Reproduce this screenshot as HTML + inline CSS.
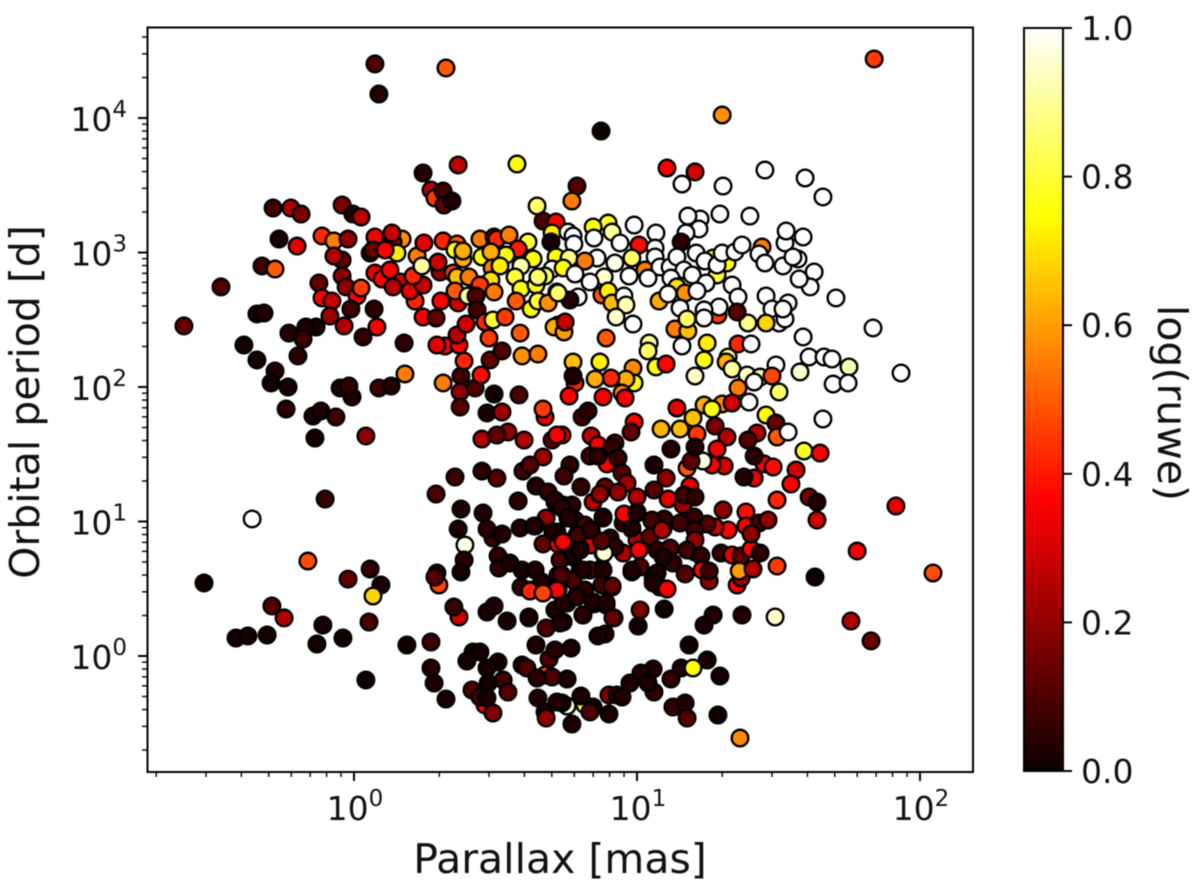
<!DOCTYPE html>
<html lang="en">
<head>
<meta charset="utf-8">
<title>Orbital period vs parallax</title>
<style>
html,body{margin:0;padding:0;background:#fff;width:1200px;height:894px;overflow:hidden}
svg{display:block;filter:blur(0.5px)}
text{font-family:"DejaVu Sans","Liberation Sans",sans-serif;fill:#111}
</style>
</head>
<body>
<svg id="chart" xmlns="http://www.w3.org/2000/svg" width="1200" height="894" viewBox="0 0 1200 894">
  <defs>
    <linearGradient id="hotGradient" x1="0" y1="1" x2="0" y2="0">
      <stop offset="0" stop-color="#0b0000"/>
      <stop offset="0.365" stop-color="#ff0000"/>
      <stop offset="0.746" stop-color="#ffff00"/>
      <stop offset="1" stop-color="#ffffff"/>
    </linearGradient>
    <clipPath id="plotClip"><rect x="147" y="27" width="826" height="745"/></clipPath>
  </defs>
  <g id="points" clip-path="url(#plotClip)"></g>
  <rect x="147.5" y="27.5" width="825.5" height="744.5" fill="none" stroke="#000" stroke-width="2"/>
  <g id="axes"></g>
  <text x="560" y="873" font-size="41" text-anchor="middle">Parallax [mas]</text>
  <text transform="translate(39 402) rotate(-90)" font-size="41" text-anchor="middle">Orbital period [d]</text>
  <rect x="1024" y="28" width="39" height="743" fill="url(#hotGradient)" stroke="#000" stroke-width="2"/>
  <g id="colorbarAxis"></g>
  <text transform="translate(1158 403) rotate(90)" font-size="41" text-anchor="middle">log(ruwe)</text>
</svg>
<script>
const logParallax = [
0.074,0.325,0.088,0.244,0.368,0.576,0.272,0.286,0.315,0.318,
0.346,0.647,0.668,0.714,-0.286,-0.223,-0.187,-0.042,-0.004,0.025,
-0.265,-0.201,-0.113,-0.071,-0.021,0.170,0.074,0.138,0.134,0.057,
0.067,0.152,0.110,-0.042,-0.071,-0.325,-0.279,-0.470,-0.601,0.074,
0.099,0.163,0.127,0.138,-0.042,-0.124,-0.028,0.011,0.025,-0.113,
-0.078,-0.011,-0.085,0.071,0.081,-0.035,-0.134,-0.170,-0.180,-0.230,
-0.343,-0.318,-0.389,-0.343,-0.198,0.032,0.177,-0.279,-0.293,-0.233,
-0.007,-0.049,-0.018,0.088,0.131,0.180,0.315,0.378,0.375,0.428,
0.449,0.495,0.583,0.481,0.523,0.389,0.594,0.650,0.477,0.587,
0.322,0.293,0.371,0.364,0.396,0.244,0.290,0.368,0.307,0.216,
0.198,0.244,0.209,0.304,0.297,0.350,0.223,0.240,0.247,0.315,
0.364,0.357,0.385,0.385,0.445,0.495,0.505,0.548,0.615,0.700,
0.696,0.452,0.580,0.537,0.484,0.633,0.714,0.488,0.516,0.590,
0.700,0.364,0.406,0.484,0.569,0.445,0.495,0.357,0.403,0.431,
0.435,0.590,0.643,0.675,0.650,0.717,0.573,0.626,0.650,0.686,
0.463,0.491,0.534,0.721,0.707,1.838,1.301,0.873,1.106,1.205,
1.159,1.304,1.452,1.594,1.657,0.788,0.770,0.898,0.845,0.912,
0.990,1.067,1.223,1.180,1.219,1.293,1.399,1.173,1.523,1.527,
1.587,0.756,0.774,0.848,0.777,0.940,1.007,1.156,0.760,0.859,
0.816,0.922,0.982,1.064,1.064,1.028,1.081,1.117,1.141,1.039,
0.972,0.884,0.834,0.739,0.781,1.166,1.120,1.195,1.209,1.269,
1.318,1.240,1.283,1.283,1.301,1.346,1.371,1.442,1.431,1.452,
1.516,1.569,1.551,1.336,1.244,1.141,1.170,1.212,1.078,1.110,
1.357,1.626,1.612,1.573,1.456,1.534,1.703,1.834,1.477,1.502,
1.523,1.516,1.392,1.456,1.286,1.354,1.290,1.237,1.237,1.134,
1.152,1.180,1.177,1.159,1.248,1.237,1.322,1.315,1.336,1.205,
1.357,1.403,1.587,1.608,1.661,1.689,1.749,1.576,1.491,1.389,
1.435,1.477,1.414,1.502,1.357,1.693,1.746,1.933,1.043,1.039,
1.067,1.103,0.774,0.869,0.986,0.990,0.961,0.908,0.852,0.781,
0.774,0.760,0.880,0.947,0.958,0.891,0.742,0.746,0.792,0.763,
0.721,0.876,0.898,0.912,0.954,0.961,0.926,0.986,1.396,1.141,
1.237,1.301,1.336,1.265,1.456,1.491,1.495,1.534,1.657,1.424,
1.392,1.590,1.647,1.085,1.152,1.198,1.212,1.276,1.318,1.283,
1.308,1.265,1.177,1.233,1.191,1.205,1.120,1.060,0.990,0.979,
0.838,0.862,0.922,0.912,0.834,0.894,0.862,0.933,0.806,0.827,
0.735,0.763,0.742,0.802,0.947,0.965,0.887,0.933,0.845,0.869,
1.000,1.060,1.103,1.187,1.110,1.163,1.166,1.205,0.958,1.000,
0.880,0.756,0.739,1.304,1.385,1.495,1.562,1.544,1.449,1.481,
1.414,1.414,1.378,1.608,1.636,1.636,1.385,1.431,1.463,1.322,
1.276,1.248,1.202,1.152,1.092,1.096,1.053,0.982,0.951,0.838,
0.788,0.746,0.838,0.880,0.876,0.905,1.007,1.000,1.046,0.951,
0.922,1.071,1.117,1.096,1.127,1.170,1.205,1.205,1.205,1.177,
1.226,1.297,1.336,1.368,1.403,1.403,1.435,1.354,1.368,1.361,
1.410,1.495,1.230,1.255,1.255,1.778,1.915,2.046,1.629,1.756,
1.827,1.488,1.371,1.269,1.237,1.184,1.248,1.293,1.156,1.198,
1.120,1.057,1.014,0.975,1.060,1.039,1.127,1.170,1.177,1.286,
1.364,0.901,0.929,0.947,0.901,0.816,0.753,0.845,0.834,0.802,
0.735,0.770,0.753,0.767,0.887,0.862,1.004,1.011,1.096,0.919,
0.848,0.891,0.809,1.081,1.106,1.064,1.011,0.982,1.057,0.912,
0.880,0.876,0.774,0.774,0.735,0.788,0.739,0.799,0.753,0.721,
-0.240,-0.145,-0.117,-0.064,-0.138,0.042,0.375,0.470,0.523,0.452,
0.544,0.505,0.601,0.675,0.668,0.700,0.717,0.668,0.597,0.622,
0.357,0.452,0.505,0.290,0.643,0.686,0.580,0.710,0.378,0.456,
0.679,0.587,0.640,0.491,0.470,0.523,0.368,0.392,0.668,0.721,
0.717,-0.102,-0.360,-0.163,-0.530,-0.021,0.057,0.095,0.067,-0.290,
-0.247,-0.110,0.053,-0.417,-0.375,-0.307,-0.131,-0.039,0.187,0.272,
0.042,0.272,0.283,0.325,0.300,0.293,0.286,0.389,0.378,0.371,
0.353,0.470,0.495,0.541,0.618,0.679,0.643,0.509,0.512,0.551,
0.594,0.640,0.626,0.590,0.671,0.664,0.714,0.721,0.421,0.445,
0.399,0.509,0.470,0.594,0.611,0.689,0.675,0.700,0.647,0.527,
0.474,0.417,0.463,0.445,0.544,0.470,0.491,0.650,0.675,0.679,
0.717,0.781,0.816,0.770,0.799,0.728,0.834,0.816,0.710,0.710,
0.636,0.710,0.735,0.756,0.703,0.792,0.777,0.838,1.053,1.088,
0.982,0.880,0.880,0.774,0.732,0.809,0.799,0.982,1.071,1.057,
1.092,0.845,0.891,0.915,0.809,0.728,0.618,0.739,0.788,0.884,
0.876,0.739,0.717,1.106,1.007,0.622,0.668,0.876,0.912,0.954,1.000
];
const logPeriod = [
4.402,4.372,4.178,3.591,3.651,3.658,3.465,3.405,3.457,3.353,
3.383,3.346,3.234,3.227,3.331,3.331,3.286,3.353,3.286,3.264,
3.100,3.048,3.123,3.086,3.100,3.100,3.115,3.078,3.145,2.996,
3.019,2.996,3.019,2.944,2.974,2.900,2.877,2.744,2.454,2.848,
2.803,2.781,2.870,2.744,2.825,2.773,2.744,2.677,2.736,2.662,
2.639,2.580,2.528,2.580,2.446,2.454,2.446,2.446,2.357,2.401,
2.543,2.550,2.312,2.201,2.231,2.372,2.327,2.119,2.030,2.000,
1.926,1.993,2.007,1.993,2.007,2.097,2.030,2.082,1.963,1.993,
2.089,1.948,1.941,2.201,2.268,2.193,2.231,2.245,2.364,2.401,
2.305,2.312,2.312,2.387,2.468,2.520,2.513,2.625,2.639,2.639,
2.714,2.758,2.825,2.855,2.929,2.848,2.974,2.900,3.071,3.086,
3.063,3.019,2.952,3.011,3.100,3.115,3.100,3.130,3.078,3.145,
3.078,2.967,3.026,2.981,3.004,2.952,2.967,2.885,2.900,2.900,
2.877,2.818,2.818,2.796,2.818,2.758,2.706,2.714,2.677,2.677,
2.573,2.729,2.758,2.825,2.818,2.706,2.639,2.580,2.639,2.625,
2.483,2.498,2.520,2.461,2.446,4.439,4.022,3.903,3.628,3.599,
3.509,3.494,3.613,3.554,3.413,3.494,3.383,3.219,3.190,3.152,
3.204,3.145,3.249,3.271,3.175,3.286,3.271,3.145,3.071,3.160,
3.115,3.152,3.123,3.108,3.063,3.071,3.056,3.078,2.959,2.959,
2.937,2.922,2.959,3.033,2.967,2.870,2.892,2.892,2.967,2.810,
2.825,2.818,2.781,2.885,2.840,2.870,2.810,2.833,2.996,2.959,
2.922,2.937,2.833,2.907,2.996,3.004,3.056,3.041,2.989,2.922,
2.900,2.952,2.967,2.758,2.773,2.744,2.699,2.714,2.639,2.692,
2.669,2.855,2.744,2.803,2.677,2.625,2.662,2.439,2.580,2.476,
2.506,2.580,2.476,2.476,2.535,2.558,2.595,2.573,2.513,2.431,
2.587,2.416,2.506,2.305,2.327,2.201,2.223,2.186,2.134,2.082,
2.320,2.320,2.372,2.223,2.223,2.208,2.149,2.112,2.164,2.089,
2.074,2.082,2.037,1.963,1.993,2.022,2.030,2.104,2.327,2.268,
2.149,2.171,2.186,2.186,2.141,2.030,2.059,2.067,2.059,2.030,
2.082,1.933,1.926,1.955,1.918,2.364,2.409,2.483,2.669,2.647,
2.699,2.684,2.714,2.625,2.677,2.610,2.520,2.468,1.888,1.844,
1.866,1.874,1.881,1.836,1.792,1.732,1.628,1.665,1.762,1.658,
1.606,1.524,1.509,1.688,1.688,1.770,1.651,1.710,1.628,1.539,
1.413,1.420,1.398,1.450,1.450,1.554,1.539,1.420,1.740,1.665,
1.636,1.569,1.584,1.554,1.487,1.428,1.487,1.472,1.777,1.822,
1.643,1.420,1.338,1.257,1.361,1.286,1.257,1.219,1.145,1.204,
1.182,1.234,1.323,1.264,1.167,1.123,1.197,1.182,1.048,1.071,
1.033,1.026,1.123,1.086,1.071,1.160,1.383,1.279,1.428,1.405,
1.487,1.323,1.331,1.182,1.145,1.011,0.967,0.989,1.011,0.937,
0.959,0.981,1.033,0.989,0.944,1.019,1.004,0.944,0.989,0.937,
0.900,0.848,0.825,0.766,0.848,0.877,0.788,0.862,0.885,0.766,
0.810,0.788,0.803,0.729,0.691,0.610,0.937,0.773,0.862,0.788,
0.744,0.766,0.751,0.744,0.796,0.907,0.766,0.528,0.580,0.632,
0.647,0.669,0.639,0.558,0.632,0.781,1.115,0.617,0.587,0.260,
0.112,0.290,0.305,0.305,0.230,0.082,-0.030,-0.149,-0.089,-0.089,
-0.171,-0.097,-0.126,-0.201,-0.268,-0.201,-0.379,-0.349,-0.461,-0.439,
-0.610,-0.290,-0.290,-0.305,-0.431,-0.364,-0.372,-0.379,-0.416,-0.297,
-0.349,-0.506,-0.171,0.059,0.164,0.149,0.223,0.342,0.349,0.283,
0.387,0.379,0.305,0.513,0.498,0.602,0.662,0.625,0.580,0.513,
0.528,0.654,0.736,0.565,0.602,0.454,0.253,0.639,0.394,0.491,
1.836,1.784,1.822,1.777,1.621,1.636,1.851,1.807,1.814,1.613,
1.665,1.643,1.606,1.777,1.836,1.606,1.643,1.480,1.375,1.420,
1.331,1.375,1.323,1.204,1.264,1.219,1.152,1.145,1.093,1.063,
1.026,0.952,0.967,0.877,0.944,0.907,0.944,0.825,0.833,0.833,
0.922,1.167,1.019,0.706,0.543,0.572,0.647,0.528,0.446,0.372,
0.283,0.230,0.253,0.134,0.149,0.156,0.089,0.134,0.082,0.104,
-0.178,-0.089,-0.201,-0.320,0.528,0.617,0.587,0.714,0.625,0.290,
0.364,0.327,0.372,0.260,0.283,0.208,0.082,0.744,0.654,0.691,
0.639,0.639,0.491,0.513,0.491,0.550,0.491,0.602,0.030,0.030,
-0.037,-0.045,-0.089,-0.067,-0.089,-0.022,-0.141,-0.156,-0.164,-0.178,
-0.201,-0.253,-0.364,-0.305,-0.268,-0.312,-0.424,-0.312,-0.416,-0.461,
-0.342,1.011,0.974,1.123,0.803,0.714,0.639,0.491,0.045,0.342,
0.967,1.160,1.100,1.033,0.922,0.900,0.751,0.937,1.011,0.937,
0.952,1.026,0.639,0.565,0.602,0.639,0.788,0.639,0.617,0.543,
0.736,0.401,0.394,0.283,0.305,0.245,0.290,0.394,0.439,0.766,
0.855,0.848,0.491,0.498,0.788,0.483,0.468,0.528,0.520,1.056,1.063
];
const logRuwe = [
.1,.5,.04,.04,.27,.75,.25,.45,.08,.13,
.03,.85,.1,.36,.08,.25,.17,.17,.04,.27,
.02,.33,.42,.55,.2,.58,.35,.2,.28,.05,
.13,.72,.36,.13,.25,.08,.5,.1,.14,.33,
.36,.3,.36,.25,.2,.13,.2,.36,.45,.36,
.28,.08,.22,.05,.36,.25,.03,.03,.08,.04,
.02,.03,.02,.02,.05,.06,.05,.03,.015,.02,
.03,.03,.06,.08,.04,.55,.55,.08,.2,.1,
.38,.015,.1,.13,.1,.42,.58,.55,.45,.5,
.36,.33,.36,.25,.3,.36,.13,.3,.36,.42,
.33,.28,.42,.2,.28,.45,.55,.9,.33,.42,
.5,.75,.62,.62,.55,.2,.42,.55,.8,.72,
.02,.75,.4,.75,.62,.75,.75,.55,.72,.92,
1,.65,.55,.7,.8,.45,.55,.5,.9,.1,
.08,.75,.75,.85,.85,.85,.5,.75,.8,.58,
.42,.8,.45,.36,.62,.45,.58,.01,.36,.3,
1,1,1,1,1,.11,.55,.78,.75,.9,
1,1,1,1,1,1,1,1,1,1,
1,1,1,1,1,1,.38,.05,.88,1,
.55,.98,.85,1,1,.55,1,1,1,1,
1,.95,1,.75,1,1,1,1,1,.8,
.75,1,.8,1,1,1,1,.55,1,1,
1,1,1,1,1,.7,.58,1,.62,1,
1,1,1,1,1,1,1,1,1,1,
1,1,.88,.68,.45,.11,1,1,1,.55,
1,.65,.85,1,.72,.75,.85,.62,.9,.95,
.42,1,1,1,1,1,.93,.95,1,.95,
.9,.47,1,.85,.55,1,1,1,.9,.85,
.75,.37,.65,.73,.57,.75,.62,.42,.62,.42,
.03,.36,.36,.55,.36,.5,.6,.28,1,.04,
.85,.5,.72,.65,1,.92,.95,1,1,.33,
.62,.58,.3,.75,.75,.13,.5,1,1,.25,
.11,.78,.36,.63,.65,.65,.45,.17,.25,.35,
.3,.36,.5,.97,.13,.03,.03,.03,.36,.13,
.28,.36,.13,.06,.08,.36,.05,.06,.08,.05,
.33,.05,.08,.06,.1,.22,.13,.2,.25,.2,
.25,.11,.2,.33,.32,.22,.08,.06,.35,.04,
.04,.05,.05,.2,.38,.42,.3,.36,.36,.38,
.05,.33,.04,.17,.03,.3,.36,.08,.2,.36,
.3,.11,.06,.08,.25,.06,.11,.06,.05,.13,
.13,.36,.33,.95,.12,.05,.36,.25,.13,.25,
.05,.05,.1,.05,.06,.11,.08,.28,.2,.08,
.05,.06,.33,.13,.36,.2,.05,.36,.22,.6,
.25,.45,.36,.2,.08,.35,.33,.48,.01,.25,
.14,.95,.04,.03,.02,.015,.02,.015,.03,.75,
.06,.03,.03,.03,.06,.03,.06,.03,.11,.015,
.57,.17,.06,.03,.03,.75,.97,.03,.1,.03,
.03,.03,.03,.03,.03,.02,.01,.17,.015,.2,
.04,.06,.06,.06,.36,.08,.11,.03,.04,.08,
.13,.05,.05,.1,.13,.06,.04,.03,.04,.36,
.05,.02,.03,.08,.015,.2,.11,.02,.22,.25,
.2,.13,.25,.35,.45,.13,.36,.22,.08,.11,
.08,.05,.11,.1,.03,.06,.05,.04,.03,.03,
.2,.03,.04,.08,.05,.04,.03,.97,.13,.36,
.03,.07,1,.48,.01,.13,.06,.02,.68,.11,
.25,.015,.1,.015,.015,.015,.015,.015,.01,.07,
.01,.04,.03,.02,.47,.04,.11,.05,.015,.3,
.07,.03,.03,.02,.03,.1,.03,.06,.05,.03,
.02,.03,.42,.05,.5,.03,.36,.2,.015,.015,
.015,.015,.02,.03,.1,.1,.45,.1,.05,.08,
.015,.1,.36,.08,.11,.02,.17,.03,.03,.2,
.03,.06,.08,.05,.04,.08,.1,.05,.04,.03,
.03,.04,.05,.03,.03,.08,.02,.05,.08,.25,
.03,.03,.03,.1,.1,.03,.03,.03,.03,.03,
.03,.03,.03,.13,.05,.03,.02,.03,.05,.95,
.11,.36,.36,.36,.36,.42,.47,.08,.13,.36,.03
];
const xTickExponents = [0, 1, 2];
const yTickExponents = [0, 1, 2, 3, 4];
const xMinorDecades = [-1, 0, 1, 2];
const yMinorDecades = [-1, 0, 1, 2, 3, 4];
const minorMultiples = [2, 3, 4, 5, 6, 7, 8, 9];
const colorbarTicks = [0, 0.2, 0.4, 0.6, 0.8, 1];

const NS = 'http://www.w3.org/2000/svg';
function xAxis(logValue) { return 354 + 283 * logValue; }
function yAxis(logValue) { return 656 - 134.5 * logValue; }
function cbAxis(value) { return 771 - 743 * value; }
function clamp01(v) { return Math.max(0, Math.min(1, v)); }
function hotColor(v) {
  const r = 0.0416 + (1 - 0.0416) * clamp01(v / 0.365);
  const g = clamp01((v - 0.365) / 0.381);
  const b = clamp01((v - 0.746) / 0.254);
  return 'rgb(' + Math.round(r * 255) + ',' + Math.round(g * 255) + ',' + Math.round(b * 255) + ')';
}
function line(parent, x1, y1, x2, y2, width) {
  const el = document.createElementNS(NS, 'line');
  el.setAttribute('x1', x1);
  el.setAttribute('y1', y1);
  el.setAttribute('x2', x2);
  el.setAttribute('y2', y2);
  el.setAttribute('stroke', '#000');
  el.setAttribute('stroke-width', width);
  parent.appendChild(el);
  return el;
}
function powerLabel(parent, x, y, anchor, exponent) {
  const el = document.createElementNS(NS, 'text');
  el.setAttribute('x', x);
  el.setAttribute('y', y);
  el.setAttribute('font-size', '33');
  el.setAttribute('text-anchor', anchor);
  const base = document.createElementNS(NS, 'tspan');
  base.textContent = '10';
  el.appendChild(base);
  const sup = document.createElementNS(NS, 'tspan');
  sup.setAttribute('dy', '-14');
  sup.setAttribute('font-size', '23');
  sup.textContent = String(exponent);
  el.appendChild(sup);
  parent.appendChild(el);
  return el;
}

const pointsGroup = document.getElementById('points');
logParallax.forEach(function (lp, i) {
  const c = document.createElementNS(NS, 'circle');
  c.setAttribute('cx', xAxis(lp));
  c.setAttribute('cy', yAxis(logPeriod[i]));
  c.setAttribute('r', 8.3);
  c.setAttribute('fill', hotColor(logRuwe[i]));
  c.setAttribute('stroke', '#000');
  c.setAttribute('stroke-width', 2.4);
  
  
  pointsGroup.appendChild(c);
});

const axes = document.getElementById('axes');
xTickExponents.forEach(function (e) {
  const t = line(axes, xAxis(e), 772, xAxis(e), 781, 2);
  
  
  const l = powerLabel(axes, xAxis(e) + 1, 820, 'middle', e);
  
  
});
yTickExponents.forEach(function (e) {
  const t = line(axes, 147, yAxis(e), 138, yAxis(e), 2);
  
  
  const l = powerLabel(axes, 127, yAxis(e) + 13, 'end', e);
  
  
});
xMinorDecades.forEach(function (d) {
  minorMultiples.forEach(function (m) {
    const x = xAxis(d + Math.log10(m));
    if (x > 147 && x < 973) {
      const t = line(axes, x, 772, x, 777, 1.4);
      
      
    }
  });
});
yMinorDecades.forEach(function (d) {
  minorMultiples.forEach(function (m) {
    const y = yAxis(d + Math.log10(m));
    if (y > 27 && y < 772) {
      const t = line(axes, 147, y, 142, y, 1.4);
      
      
    }
  });
});

const cbGroup = document.getElementById('colorbarAxis');
colorbarTicks.forEach(function (v) {
  const t = line(cbGroup, 1063, cbAxis(v), 1072, cbAxis(v), 2);
  
  
  const l = document.createElementNS(NS, 'text');
  l.setAttribute('x', 1081);
  l.setAttribute('y', cbAxis(v) + 12);
  l.setAttribute('font-size', '33');
  l.textContent = v.toFixed(1);
  
  
  cbGroup.appendChild(l);
});
</script>
</body>
</html>
